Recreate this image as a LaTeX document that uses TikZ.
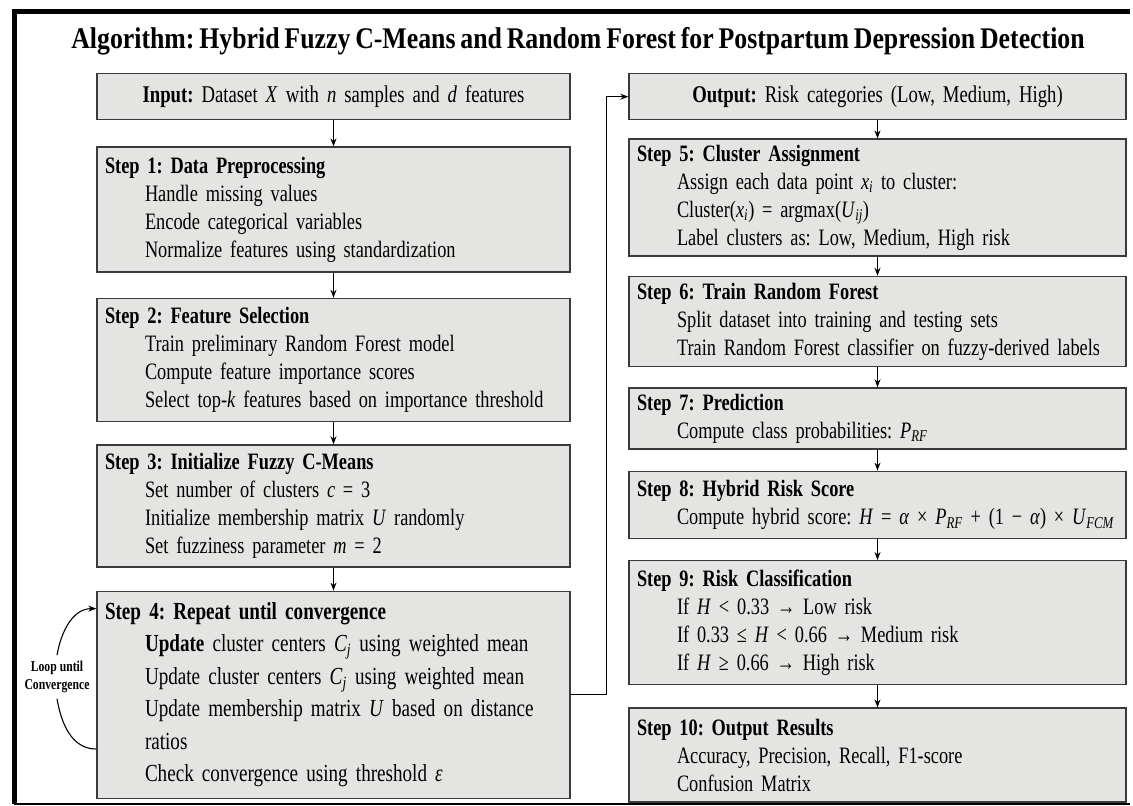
\documentclass[tikz,border=0pt]{standalone}
\usepackage{fontspec}
\setmainfont[FakeStretch=0.78]{Liberation Serif}
\newfontfamily\headfont[FakeStretch=0.86, WordSpace=0.75]{Liberation Serif}
\usetikzlibrary{arrows.meta,positioning,calc}
\definecolor{clBox}{HTML}{E4E4E2}
\definecolor{clEdge}{HTML}{3A3A3A}
\tikzset{
  box/.style={rectangle, draw=clEdge, fill=clBox, line width=1.4pt,
              inner xsep=6pt, inner ysep=0pt, anchor=north},
  leftbox/.style={box, text width=461pt},
  rightbox/.style={box, text width=485pt},
  iobox/.style={align=center, minimum height=46pt, font=\fontsize{24}{28}\selectfont},
  stepbox/.style={align=left, minimum height=#1, font=\fontsize{23.5}{28}\selectfont},
  flow/.style={-{Stealth[length=8pt,width=6pt]}, line width=1.1pt, draw=black},
  looplabel/.style={align=center, inner sep=1pt, outer sep=5pt,
                    font=\bfseries\fontsize{15}{18}\selectfont},
}
\newcommand{\ind}{\hspace*{42pt}}
\newcommand{\stp}[1]{\hspace*{2pt}\textbf{#1}}
\frenchspacing

\begin{document}
\begin{tikzpicture}[x=1pt, y=-1pt]
  \useasboundingbox (0,0) rectangle (1133,806);
  % frame
  \draw[line width=5pt] (14,804) -- (14,11) -- (1130,11);
  \draw[line width=1.2pt] (14,804) -- (1130,804);

  \node[anchor=base, font=\headfont\bfseries\fontsize{30}{34}\selectfont] (title) at (578,48)
    {Algorithm: Hybrid Fuzzy C-Means and Random Forest for Postpartum Depression Detection};

  % left column
  \node[leftbox, iobox] (in) at (333.5,73)
    {\textbf{Input:} Dataset \textit{X} with \textit{n} samples and \textit{d} features};
  \node[leftbox, stepbox=125pt, below=26pt of in] (s1)
    {\stp{Step 1: Data Preprocessing}\\
     \ind Handle missing values\\
     \ind Encode categorical variables\\
     \ind Normalize features using standardization};
  \node[leftbox, stepbox=123pt, below=25pt of s1] (s2)
    {\stp{Step 2: Feature Selection}\\
     \ind Train preliminary Random Forest model\\
     \ind Compute feature importance scores\\
     \ind Select top-\textit{k} features based on importance threshold};
  \node[leftbox, stepbox=122pt, below=22pt of s2] (s3)
    {\stp{Step 3: Initialize Fuzzy C-Means}\\
     \ind Set number of clusters \textit{c} = 3\\
     \ind Initialize membership matrix \textit{U} randomly\\
     \ind Set fuzziness parameter \textit{m} = 2};
  \node[leftbox, stepbox=207pt, below=23pt of s3, font=\fontsize{24.5}{32.5}\selectfont] (s4)
    {\stp{Step 4: Repeat until convergence}\\
     \ind\textbf{Update} cluster centers \textit{C}\textsubscript{\textit{j}} using weighted mean\\
     \ind Update cluster centers \textit{C}\textsubscript{\textit{j}} using weighted mean\\
     \ind Update membership matrix \textit{U} based on distance\\
     \ind ratios\\
     \ind Check convergence using threshold \textit{ε}};

  % right column
  \node[rightbox, iobox] (out) at (877.5,73)
    {\textbf{Output:} Risk categories (Low, Medium, High)};
  \node[rightbox, stepbox=117pt, below=18pt of out] (s5)
    {\stp{Step 5: Cluster Assignment}\\
     \ind Assign each data point \textit{x}\textsubscript{\textit{i}} to cluster:\\
     \ind Cluster(\textit{x}\textsubscript{\textit{i}}) = argmax(\textit{U}\textsubscript{\textit{ij}})\\
     \ind Label clusters as: Low, Medium, High risk};
  \node[rightbox, stepbox=90pt, below=19pt of s5] (s6)
    {\stp{Step 6: Train Random Forest}\\
     \ind Split dataset into training and testing sets\\
     \ind Train Random Forest classifier on fuzzy-derived labels};
  \node[rightbox, stepbox=61pt, below=20pt of s6] (s7)
    {\stp{Step 7: Prediction}\\
     \ind Compute class probabilities: \textit{P}\textsubscript{\textit{RF}}};
  \node[rightbox, stepbox=67pt, below=21pt of s7] (s8)
    {\stp{Step 8: Hybrid Risk Score}\\
     \ind Compute hybrid score: \textit{H} = \textit{α} × \textit{P}\textsubscript{\textit{RF}} + (1 − \textit{α}) × \textit{U}\textsubscript{\textit{FCM}}};
  \node[rightbox, stepbox=124pt, below=21pt of s8] (s9)
    {\stp{Step 9: Risk Classification}\\
     \ind If \textit{H} < 0.33 → Low risk\\
     \ind If 0.33 ≤ \textit{H} < 0.66 → Medium risk\\
     \ind If \textit{H} ≥ 0.66 → High risk};
  \node[rightbox, stepbox=94pt, below=22pt of s9] (s10)
    {\stp{Step 10: Output Results}\\
     \ind Accuracy, Precision, Recall, F1-score\\
     \ind Confusion Matrix};

  \foreach \a/\b in {in/s1, s1/s2, s2/s3, s3/s4, out/s5, s5/s6, s6/s7, s7/s8, s8/s9, s9/s10}
    \draw[flow] (\a) -- (\b);
  \draw[flow] (s4.east) -- ++(36pt,0) |- (out.west);

  % loop back
  \node[looplabel] (loop) at (57,677) {Loop until\\Convergence};
  \draw[line width=1.1pt] ([yshift=50pt]s4.south west) to[out=180, in=-80] (loop.south);
  \draw[flow] (loop.north) to[out=80, in=180] ([yshift=-18pt]s4.north west);
\end{tikzpicture}
\end{document}
